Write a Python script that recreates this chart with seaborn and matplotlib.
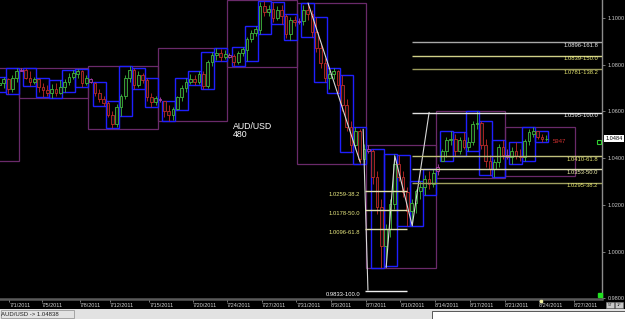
import numpy as np
import pandas as pd
import matplotlib
matplotlib.use("Agg")
import matplotlib.pyplot as plt
from matplotlib.patches import Rectangle
from matplotlib.transforms import blended_transform_factory
import seaborn as sns

# ---------------- data (AUD/USD, 480-minute bars) ----------------
# bar index 0 = Sunday session opening the week of 7/3/2011; 16 bars per week
# (1 Sunday bar + 5 days x 3 bars)
bar_start = -6
opens = [1.0703, 1.0711, 1.0720, 1.0737, 1.0694, 1.0745,
         1.0779, 1.0779, 1.0745, 1.0724, 1.0737, 1.0703, 1.0690, 1.0677, 1.0694, 1.0681, 1.0703, 1.0728, 1.0749, 1.0762, 1.0771, 1.0720,
         1.0737, 1.0720, 1.0677, 1.0652, 1.0635, 1.0583, 1.0545, 1.0618, 1.0664, 1.0741, 1.0779, 1.0711, 1.0754, 1.0733, 1.0660, 1.0639,
         1.0652, 1.0643, 1.0600, 1.0583, 1.0609, 1.0660, 1.0699, 1.0728, 1.0737, 1.0724, 1.0762, 1.0707, 1.0813, 1.0843, 1.0851, 1.0834,
         1.0843, 1.0839, 1.0813, 1.0851, 1.0864, 1.0911, 1.0936, 1.0949, 1.1051, 1.1026, 1.1039, 1.1000, 1.1034, 1.1009, 1.0932, 1.0992,
         1.0983, 1.0988, 1.1034, 1.1017, 1.0941, 1.0873, 1.0809, 1.0745, 1.0762, 1.0771, 1.0711, 1.0626, 1.0532, 1.0456, 1.0515, 1.0396,
         1.0439, 1.0430, 1.0320, 1.0192, 1.0022, 1.0098, 1.0205, 1.0375, 1.0320, 1.0256, 1.0175, 1.0209, 1.0260, 1.0277, 1.0311, 1.0290,
         1.0345, 1.0388, 1.0430, 1.0477, 1.0481, 1.0430, 1.0477, 1.0447, 1.0469, 1.0545, 1.0549, 1.0456, 1.0388, 1.0354, 1.0383, 1.0447,
         1.0413, 1.0405, 1.0430, 1.0409, 1.0405, 1.0473, 1.0503, 1.0515, 1.0490, 1.0481]
highs = [1.0720, 1.0737, 1.0749, 1.0741, 1.0758, 1.0788,
         1.0788, 1.0788, 1.0771, 1.0749, 1.0741, 1.0720, 1.0711, 1.0716, 1.0720, 1.0733, 1.0737, 1.0766, 1.0779, 1.0783, 1.0779, 1.0754,
         1.0745, 1.0728, 1.0694, 1.0668, 1.0643, 1.0600, 1.0630, 1.0673, 1.0754, 1.0796, 1.0788, 1.0771, 1.0766, 1.0745, 1.0677, 1.0668,
         1.0660, 1.0643, 1.0626, 1.0618, 1.0668, 1.0711, 1.0741, 1.0762, 1.0758, 1.0775, 1.0771, 1.0822, 1.0855, 1.0873, 1.0868, 1.0864,
         1.0851, 1.0847, 1.0860, 1.0877, 1.0920, 1.0949, 1.0966, 1.1068, 1.1073, 1.1056, 1.1068, 1.1051, 1.1056, 1.1017, 1.1005, 1.1009,
         1.1000, 1.1056, 1.1064, 1.1034, 1.1005, 1.0890, 1.0830, 1.0779, 1.0788, 1.0779, 1.0754, 1.0652, 1.0558, 1.0532, 1.0524, 1.0460,
         1.0456, 1.0439, 1.0345, 1.0226, 1.0120, 1.0226, 1.0418, 1.0413, 1.0345, 1.0277, 1.0226, 1.0269, 1.0303, 1.0328, 1.0345, 1.0354,
         1.0375, 1.0439, 1.0490, 1.0515, 1.0503, 1.0490, 1.0511, 1.0490, 1.0558, 1.0600, 1.0558, 1.0481, 1.0413, 1.0396, 1.0460, 1.0477,
         1.0439, 1.0447, 1.0469, 1.0439, 1.0481, 1.0524, 1.0532, 1.0515, 1.0503, 1.0498]
lows = [1.0685, 1.0694, 1.0699, 1.0673, 1.0685, 1.0728,
        1.0771, 1.0737, 1.0707, 1.0716, 1.0685, 1.0660, 1.0664, 1.0656, 1.0664, 1.0673, 1.0685, 1.0711, 1.0737, 1.0745, 1.0703, 1.0711,
        1.0720, 1.0668, 1.0639, 1.0622, 1.0575, 1.0528, 1.0532, 1.0579, 1.0652, 1.0728, 1.0694, 1.0703, 1.0720, 1.0643, 1.0618, 1.0626,
        1.0639, 1.0575, 1.0558, 1.0562, 1.0605, 1.0643, 1.0685, 1.0716, 1.0711, 1.0716, 1.0694, 1.0699, 1.0796, 1.0822, 1.0818, 1.0826,
        1.0830, 1.0796, 1.0805, 1.0839, 1.0818, 1.0898, 1.0924, 1.0932, 1.1009, 1.1009, 1.0983, 1.0992, 1.0975, 1.0915, 1.0907, 1.0966,
        1.0975, 1.0971, 1.0992, 1.0920, 1.0856, 1.0788, 1.0728, 1.0694, 1.0737, 1.0681, 1.0600, 1.0515, 1.0426, 1.0439, 1.0375, 1.0383,
        1.0422, 1.0290, 1.0162, 0.9928, 0.9937, 1.0064, 1.0183, 1.0303, 1.0235, 1.0111, 1.0111, 1.0166, 1.0226, 1.0243, 1.0269, 1.0277,
        1.0328, 1.0388, 1.0405, 1.0456, 1.0409, 1.0418, 1.0439, 1.0430, 1.0456, 1.0524, 1.0439, 1.0362, 1.0328, 1.0320, 1.0362, 1.0396,
        1.0396, 1.0375, 1.0396, 1.0388, 1.0388, 1.0456, 1.0490, 1.0481, 1.0469, 1.0473]
closes = [1.0711, 1.0720, 1.0737, 1.0694, 1.0745, 1.0775,
          1.0775, 1.0745, 1.0724, 1.0737, 1.0703, 1.0690, 1.0677, 1.0694, 1.0681, 1.0703, 1.0728, 1.0749, 1.0766, 1.0771, 1.0720, 1.0745,
          1.0728, 1.0677, 1.0652, 1.0635, 1.0583, 1.0545, 1.0618, 1.0664, 1.0741, 1.0779, 1.0711, 1.0754, 1.0733, 1.0660, 1.0639, 1.0656,
          1.0647, 1.0600, 1.0583, 1.0609, 1.0660, 1.0699, 1.0728, 1.0737, 1.0724, 1.0762, 1.0707, 1.0813, 1.0843, 1.0851, 1.0834, 1.0847,
          1.0834, 1.0813, 1.0851, 1.0868, 1.0911, 1.0936, 1.0954, 1.1051, 1.1026, 1.1039, 1.1000, 1.1034, 1.1009, 1.0932, 1.0992, 1.0983,
          1.0988, 1.1034, 1.1017, 1.0941, 1.0873, 1.0809, 1.0745, 1.0762, 1.0771, 1.0711, 1.0626, 1.0532, 1.0456, 1.0515, 1.0396, 1.0439,
          1.0430, 1.0320, 1.0192, 1.0022, 1.0098, 1.0205, 1.0375, 1.0320, 1.0256, 1.0175, 1.0209, 1.0260, 1.0277, 1.0311, 1.0290, 1.0337,
          1.0362, 1.0430, 1.0477, 1.0481, 1.0430, 1.0477, 1.0447, 1.0469, 1.0545, 1.0549, 1.0456, 1.0388, 1.0354, 1.0383, 1.0447, 1.0413,
          1.0405, 1.0430, 1.0409, 1.0405, 1.0473, 1.0511, 1.0515, 1.0490, 1.0481, 1.0484]

# weekly range boxes (week -1 .. 7)
weeks = [-1, 0, 1, 2, 3, 4, 5, 6, 7]
week_hi = [1.0788, 1.0788, 1.0796, 1.0873, 1.1075, 1.1064, 1.0456, 1.0600, 1.0532]
week_lo = [1.0388, 1.0656, 1.0524, 1.0558, 1.0792, 1.0375, 0.9928, 1.0315, 1.0324]

# Fibonacci levels
fib_up_levels = [1.0896, 1.0839, 1.0781, 1.0595, 1.0410, 1.0353, 1.0295]
fib_up_labels = ["1.0896-161.8", "1.0839-150.0", "1.0781-138.2", "1.0595-100.0",
                 "1.0410-61.8", "1.0353-50.0", "1.0295-38.2"]
fib_lo_levels = [1.0259, 1.0178, 1.0096, 0.9833]
fib_lo_labels = ["1.0259-38.2", "1.0178-50.0", "1.0096-61.8", "0.9833-100.0"]

# trend lines (bar position, price)
trend_seg = [0, 0, 1, 1, 2, 2, 2, 2]
trend_x = [66.6, 78.6, 79.3, 80.4, 84.6, 86.6, 90.6, 94.5]
trend_y = [1.1064, 1.0383, 1.0524, 0.9835, 0.9932, 1.0409, 1.0111, 1.0596]

# axis labels
date_pos = [-2.2, 5.2, 14.0, 21.0, 30.0, 40.0, 47.9, 55.9, 63.9, 71.9, 79.9,
            87.9, 95.9, 103.9, 111.9, 119.8, 127.8]
date_labels = ["7/1/2011", "7/5/2011", "7/8/2011", "7/12/2011", "7/15/2011", "7/20/2011",
               "7/24/2011", "7/27/2011", "7/31/2011", "8/3/2011", "8/7/2011", "8/10/2011",
               "8/14/2011", "8/17/2011", "8/21/2011", "8/24/2011", "8/27/2011"]
price_ticks = [0.98, 1.00, 1.02, 1.04, 1.06, 1.08, 1.10]
last_price = 1.0484

# ---------------- styling ----------------
sns.set_theme(style="dark", rc={"axes.facecolor": "black", "figure.facecolor": "black"})
plt.rcParams["font.family"] = ["Liberation Sans", "DejaVu Sans"]

fig = plt.figure(figsize=(6.25, 3.19), dpi=100, facecolor="black")
ax = fig.add_axes([0, 20 / 319, 602 / 625, 299 / 319])
ax.set_facecolor("black")
ax.set_xlim(-4.38, 134.33)
ax.set_ylim(0.9797, 1.1077)
ax.grid(False)

n = len(opens)
idx = np.arange(bar_start, bar_start + n)
o = np.array(opens); h = np.array(highs); l = np.array(lows); c = np.array(closes)
in_week = np.mod(idx, 16)
GREEN, RED, MAG = "#3fb83f", "#c02a2a", "#b040b0"
cols = np.where(in_week == 0, MAG, np.where(c >= o, GREEN, RED))

# weekly purple boxes
for w, hi, lo in zip(weeks, week_hi, week_lo):
    ax.add_patch(Rectangle((w * 16, lo), 16, hi - lo, facecolor="none",
                           edgecolor="#6a2a6a", lw=0.9, zorder=1))

# daily blue boxes from the candles
df = pd.DataFrame({"bar": idx, "week": np.floor_divide(idx, 16), "inw": in_week,
                   "h": h, "l": l})
df = df[df.inw > 0].copy()
df["day"] = (df.inw - 1) // 3
for (wk, dy), g in df.groupby(["week", "day"]):
    x0 = wk * 16 + 1 + dy * 3
    ax.add_patch(Rectangle((x0, g.l.min()), 3, g.h.max() - g.l.min(), facecolor="none",
                           edgecolor="#1f1fff", lw=1.0, zorder=1.5))

# candles
x = idx + 0.5
ax.vlines(x, l, h, colors=cols, lw=0.6, zorder=2)
body_lo = np.minimum(o, c)
body_h = np.maximum(np.abs(c - o), 0.00018)
ax.bar(x, body_h, bottom=body_lo, width=0.62, facecolor="#101010", edgecolor=cols,
       lw=0.6, zorder=2.5)

# trend lines
tdf = pd.DataFrame({"seg": trend_seg, "x": trend_x, "y": trend_y})
sns.lineplot(data=tdf, x="x", y="y", units="seg", estimator=None, sort=False,
             color="#d8d8d8", lw=0.8, ax=ax, zorder=3)

# fib levels (upper set)
up_line_cols = ["#a8a8a8", "#d0d088", "#9c9c5c", "#e0e0e0", "#c0c07c", "#dcdcb0", "#a0a060"]
up_text_cols = ["#e8e8e8", "#f0f080", "#e4e470", "#ffffff", "#e4e470", "#f4f4b0", "#e4e470"]
xr = ax.get_xlim()[1]
for lv, lab, lc, tc in zip(fib_up_levels, fib_up_labels, up_line_cols, up_text_cols):
    ax.hlines(lv, 90.6, xr, colors=lc, lw=1.0, zorder=3)
    ax.text(133.4, lv - 0.0003, lab, color=tc, fontsize=4.2, ha="right", va="top", zorder=4)
# fib levels (lower set)
for lv, lab in zip(fib_lo_levels, fib_lo_labels):
    last = lab.endswith("100.0")
    ax.hlines(lv, 79.7, 89.4, colors="#f0f0f0" if last else "#e0e0b0", lw=1.0, zorder=3)
    ax.text(78.6, lv - 0.0004, lab, color="#ffffff" if last else "#e8e880", fontsize=4.2,
            ha="right", va="top", zorder=4)

# texts
ax.text(49.3, 1.0537, "AUD/USD", color="white", fontsize=6.3, ha="left", va="center")
ax.text(49.3, 1.0500, "480", color="white", fontsize=6.3, ha="left", va="center")
ax.text(123.0, 1.0473, "5947", color="#d03030", fontsize=4.3, ha="left", va="center")

# axes decoration
for s in ["top", "left"]:
    ax.spines[s].set_visible(False)
ax.spines["right"].set_color("#8c8c8c")
ax.spines["right"].set_linewidth(1.0)
ax.spines["bottom"].set_color("#5a5a5a")
ax.spines["bottom"].set_linewidth(1.8)
ax.yaxis.tick_right()
ax.set_yticks(price_ticks)
ax.set_yticklabels([f"{p:.4f}" for p in price_ticks])
ax.tick_params(axis="y", which="both", right=True, length=2, width=0.6, pad=2,
               color="#8c8c8c", labelcolor="#c8c8c8", labelsize=4)
ax.set_xticks(date_pos)
ax.set_xticklabels(date_labels)
ax.tick_params(axis="x", which="both", bottom=True, length=2, width=0.6, pad=1.2,
               color="#8c8c8c", labelcolor="#d0d0d0", labelsize=4)
for t in ax.get_xticklabels():
    t.set_ha("left")
ax.set_xlabel(""); ax.set_ylabel("")

# price tag and small markers
tr = blended_transform_factory(ax.transAxes, ax.transData)
ax.text(1.006, last_price, f"{last_price:.4f}", transform=tr, fontsize=4, color="black",
        ha="left", va="center", clip_on=False,
        bbox=dict(facecolor="white", edgecolor="none", pad=1.0))
ax.plot([133.6], [1.0469], marker="s", ms=3, mfc="none", mec="#30d030", mew=0.8,
        clip_on=False, zorder=5)
ax.plot([133.9], [0.9813], marker="s", ms=3.2, mfc="#20e020", mec="#20e020",
        clip_on=False, zorder=5)
trx = blended_transform_factory(ax.transData, ax.transAxes)
ax.plot([120.3], [-0.006], marker="s", ms=2, mfc="#f0f0a0", mec="#f0f0a0",
        transform=trx, clip_on=False, zorder=5)

# status bar
fig.add_artist(Rectangle((0, 0), 1, 10 / 319, transform=fig.transFigure,
                         facecolor="#e2e2e2", edgecolor="none"))
fig.add_artist(Rectangle((0.5 / 625, 1 / 319), 73 / 625, 8 / 319, transform=fig.transFigure,
                         facecolor="none", edgecolor="#9a9a9a", lw=0.6))
fig.add_artist(Rectangle((432 / 625, 0), 193 / 625, 8 / 319, transform=fig.transFigure,
                         facecolor="white", edgecolor="#404040", lw=0.6))
fig.text(1.5 / 625, 5 / 319, "AUD/USD -> 1.04838", fontsize=4.3, color="#202020",
         ha="left", va="center")
fig.add_artist(Rectangle((606 / 625, 11 / 319), 8 / 625, 6 / 319, transform=fig.transFigure,
                         facecolor="#c8c8c8", edgecolor="#808080", lw=0.4))
fig.add_artist(Rectangle((615 / 625, 11 / 319), 8 / 625, 6 / 319, transform=fig.transFigure,
                         facecolor="#c8c8c8", edgecolor="#808080", lw=0.4))
fig.text(610 / 625, 14 / 319, "5T", fontsize=2.8, color="#202020", ha="center", va="center")
fig.text(619 / 625, 14 / 319, "1F", fontsize=2.8, color="#202020", ha="center", va="center")

fig.savefig("out.png", dpi=100, facecolor="black")
